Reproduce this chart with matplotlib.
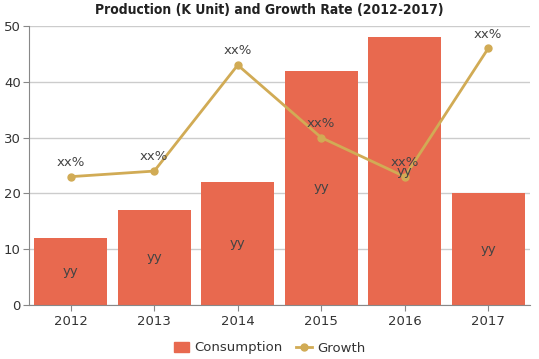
import matplotlib
matplotlib.use("Agg")
import matplotlib.pyplot as plt
from matplotlib.lines import Line2D
from matplotlib.patches import Patch

years = ["2012", "2013", "2014", "2015", "2016", "2017"]
consumption = [12, 17, 22, 42, 48, 20]
growth = [23, 24, 43, 30, 23, 46]
bar_labels = ["yy"] * 6
growth_labels = ["xx%"] * 6

bar_color = "#E8694F"
line_color = "#D1AB55"

fig = plt.figure(figsize=(5.39, 3.59), dpi=100)
ax = fig.add_axes([29/539, 1 - 305/359, (530-29)/539, (305-26)/359])

x = list(range(len(years)))
ax.bar(x, consumption, width=0.88, color=bar_color, zorder=2)
ax.plot(x, growth, color=line_color, linewidth=2, marker="o", markersize=5, zorder=3)

for xi, v, t in zip(x, consumption, bar_labels):
    ax.text(xi, v / 2, t, ha="center", va="center", fontsize=9.5, color="#444444", zorder=4)
for xi, g, t in zip(x, growth, growth_labels):
    ax.text(xi, g + 1.4, t, ha="center", va="bottom", fontsize=9.5, color="#444444", zorder=4)

ax.set_xlim(-0.5, 5.5)
ax.set_ylim(0, 50)
ax.set_yticks([0, 10, 20, 30, 40, 50])
ax.set_xticks(x)
ax.set_xticklabels(years)
ax.yaxis.grid(True, color="#cccccc", linewidth=1, zorder=0)
ax.set_axisbelow(True)
for s in ["top", "right"]:
    ax.spines[s].set_visible(False)
ax.spines["left"].set_color("#888888")
ax.spines["bottom"].set_color("#888888")
ax.tick_params(axis="y", length=4, color="#888888", labelsize=9.5, labelcolor="#333333", pad=2)
ax.tick_params(axis="x", length=4, color="#888888", labelsize=9.5, labelcolor="#333333", pad=3)

fig.text(0.5, 1 - 10/359, "Production (K Unit) and Growth Rate (2012-2017)", ha="center", va="center",
         fontsize=10, fontweight="heavy", fontstretch="condensed", color="#222222")

handles = [Patch(color=bar_color, label="Consumption"),
           Line2D([0], [0], color=line_color, linewidth=2, marker="o", markersize=5, label="Growth")]
fig.legend(handles=handles, loc="center", bbox_to_anchor=(0.5, 1 - 348/359), ncol=2, frameon=False,
           fontsize=9.5, handlelength=1.2, handletextpad=0.4, columnspacing=1.0, labelcolor="#333333")

fig.savefig("out.png", dpi=100)
